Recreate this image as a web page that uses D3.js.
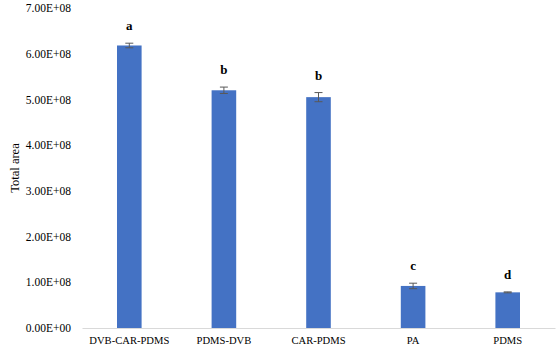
<!DOCTYPE html>
<html>
<head>
<meta charset="utf-8">
<script src="https://cdn.jsdelivr.net/npm/d3@7"></script>
<style>
  body { margin: 0; background: #fff; }
  text { font-family: "Liberation Serif", "Times New Roman", serif; }
</style>
</head>
<body>
<div id="chart"></div>
<script>
// chart data
var categories = ["DVB-CAR-PDMS", "PDMS-DVB", "CAR-PDMS", "PA", "PDMS"];
var totalArea = [6.18e8, 5.20e8, 5.05e8, 0.92e8, 0.78e8];
var errors = [0.05e8, 0.07e8, 0.10e8, 0.06e8, 0.01e8];
var letters = ["a", "b", "b", "c", "d"];
var yTicks = [0, 1e8, 2e8, 3e8, 4e8, 5e8, 6e8, 7e8];

var width = 560, height = 346;
var margin = {top: 8, right: 5, bottom: 18, left: 82};

var svg = d3.select("#chart")
  .append("svg")
    .attr("width", width)
    .attr("height", height);

var x = d3.scaleBand()
  .domain(categories)
  .range([margin.left, width - margin.right])
  .padding(0);

var y = d3.scaleLinear()
  .domain([0, 7e8])
  .range([height - margin.bottom, margin.top]);

var barW = x.bandwidth() * 0.26;

// y tick labels (no axis line)
var yAxis = svg.append("g")
  .attr("transform", `translate(${margin.left}, 0)`)
  .call(d3.axisLeft(y)
    .tickValues(yTicks)
    .tickSize(0)
    .tickPadding(11)
    .tickFormat(function(d) {
      var e = d === 0 ? 0 : Math.floor(Math.log10(d));
      var m = d === 0 ? 0 : d / Math.pow(10, e);
      return m.toFixed(2) + "E+" + String(e).padStart(2, "0");
    }));
yAxis.select(".domain").remove();
yAxis.selectAll("text")
  .style("font-size", "11.5px")
  .style("fill", "#000");

// x axis
var xAxis = svg.append("g")
  .attr("transform", `translate(0, ${y(0)})`)
  .call(d3.axisBottom(x).tickSize(0).tickPadding(8));
xAxis.select(".domain").attr("stroke", "#d9d9d9");
xAxis.selectAll("text")
  .style("font-size", "10.6px")
  .style("fill", "#000");

// bars
svg.selectAll(".bar")
  .data(categories)
  .join("rect")
    .attr("class", "bar")
    .attr("x", function(d) { return x(d) + x.bandwidth() / 2 - barW / 2 })
    .attr("y", function(d, i) { return y(totalArea[i]) })
    .attr("width", barW)
    .attr("height", function(d, i) { return y(0) - y(totalArea[i]) })
    .attr("fill", "#4472C4");

// error bars
var eb = svg.selectAll(".err")
  .data(categories)
  .join("g")
    .attr("class", "err")
    .attr("stroke", "#595959")
    .attr("stroke-width", 1);
eb.append("line")
  .attr("x1", function(d) { return x(d) + x.bandwidth() / 2 })
  .attr("x2", function(d) { return x(d) + x.bandwidth() / 2 })
  .attr("y1", function(d, i) { return y(totalArea[i] - errors[i]) })
  .attr("y2", function(d, i) { return y(totalArea[i] + errors[i]) });
[1, -1].forEach(function(s) {
  eb.append("line")
    .attr("x1", function(d) { return x(d) + x.bandwidth() / 2 - 4 })
    .attr("x2", function(d) { return x(d) + x.bandwidth() / 2 + 4 })
    .attr("y1", function(d, i) { return y(totalArea[i] + s * errors[i]) })
    .attr("y2", function(d, i) { return y(totalArea[i] + s * errors[i]) });
});

// significance letters
svg.selectAll(".letter")
  .data(categories)
  .join("text")
    .attr("class", "letter")
    .attr("x", function(d) { return x(d) + x.bandwidth() / 2 })
    .attr("y", function(d, i) { return y(totalArea[i] + errors[i]) - 13 })
    .attr("text-anchor", "middle")
    .style("font-size", "13px")
    .style("font-weight", "bold")
    .text(function(d, i) { return letters[i] });

// y axis title
svg.append("text")
  .attr("transform", `translate(19, 168) rotate(-90)`)
  .attr("text-anchor", "middle")
  .style("font-size", "12.5px")
  .text("Total area");
</script>
</body>
</html>
